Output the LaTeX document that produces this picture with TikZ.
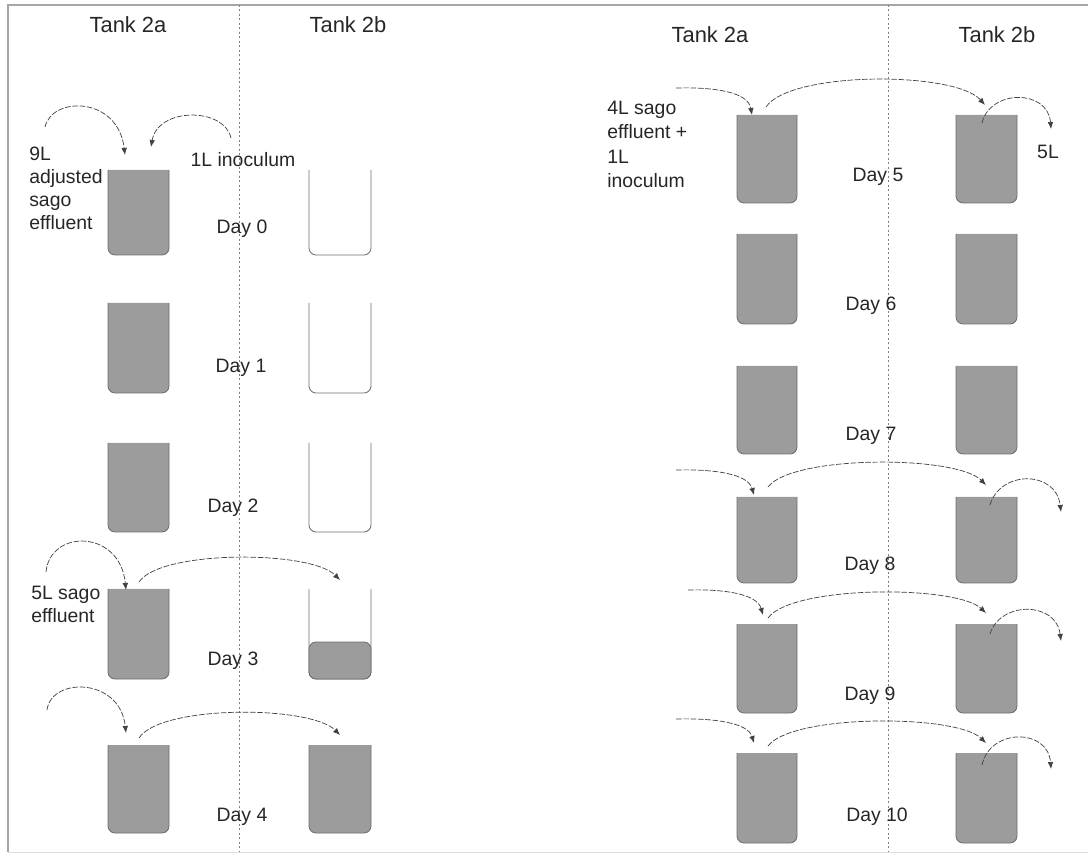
\documentclass[tikz,border=0pt]{standalone}
\usepackage{fontspec}
\setmainfont{Liberation Sans}
\usetikzlibrary{arrows.meta}
\definecolor{tankgray}{HTML}{9C9C9C}
\definecolor{tankline}{HTML}{6E6E6E}
\definecolor{flowgray}{HTML}{404040}
\definecolor{textgray}{HTML}{262626}
\tikzset{
  tankfull/.style={draw=tankline,fill=tankgray,rounded corners=5,line width=0.6pt},
  tankempty/.style={draw=tankline,rounded corners=5,line width=0.6pt},
  flow/.style={draw=flowgray,line width=0.5pt,dash pattern=on 4pt off 1.2pt,-{Latex[length=5pt,width=4pt]}},
  divider/.style={draw=gray,line width=0.6pt,dash pattern=on 1.4pt off 1.8pt},
  note/.style={font=\fontsize{13.8}{16.4}\selectfont,text=textgray,inner sep=0pt},
  heading/.style={font=\fontsize{15.6}{18}\selectfont}
}
\begin{document}
\begin{tikzpicture}[x=0.25mm,y=-0.25mm,every node/.style={note}]
\useasboundingbox (0,0) rectangle (1088,854);
% frame
\draw[gray!70,line width=0.8pt] (8,852) -- (8,5) -- (1088,5);
\draw[gray!25,line width=0.6pt] (8,852) -- (1088,852);
\draw[divider] (239,5) -- (239,852);
\draw[divider] (888,5) -- (888,852);
% headings
\node[heading] (tal) at (128,25) {Tank 2a};
\node[heading] (tbl) at (348,25) {Tank 2b};
\node[heading] (tar) at (710,35) {Tank 2a};
\node[heading] (tbr) at (997,35) {Tank 2b};
% left half, day 0 to day 4
\filldraw[tankfull] (108,170) |- (169,255) -- (169,170);
\draw[tankempty] (309,170) |- (371,255) -- (371,170);
\filldraw[tankfull] (108,303) |- (169,393) -- (169,303);
\draw[tankempty] (309,303) |- (371,393) -- (371,303);
\filldraw[tankfull] (108,443) |- (169,532) -- (169,443);
\draw[tankempty] (309,443) |- (371,532) -- (371,443);
\filldraw[tankfull] (108,589) |- (169,679) -- (169,589);
\draw[tankempty] (309,589) |- (371,679) -- (371,589);
\filldraw[tankfull] (309,642) |- (371,679) -- (371,642) -- cycle;
\filldraw[tankfull] (108,745) |- (169,833) -- (169,745);
\filldraw[tankfull] (309,745) |- (371,833) -- (371,745);
% right half, day 5 to day 10
\filldraw[tankfull] (737,115) |- (797,203) -- (797,115);
\filldraw[tankfull] (956,115) |- (1017,203) -- (1017,115);
\filldraw[tankfull] (737,234) |- (797,324) -- (797,234);
\filldraw[tankfull] (956,234) |- (1017,324) -- (1017,234);
\filldraw[tankfull] (737,366) |- (797,454) -- (797,366);
\filldraw[tankfull] (956,366) |- (1017,454) -- (1017,366);
\filldraw[tankfull] (737,497) |- (797,583) -- (797,497);
\filldraw[tankfull] (956,497) |- (1017,583) -- (1017,497);
\filldraw[tankfull] (737,624) |- (797,713) -- (797,624);
\filldraw[tankfull] (956,624) |- (1017,713) -- (1017,624);
\filldraw[tankfull] (737,753) |- (797,843) -- (797,753);
\filldraw[tankfull] (956,753) |- (1017,843) -- (1017,753);
% day labels
\node (d0) at (242,229) {Day 0};
\node (d1) at (241,368) {Day 1};
\node (d2) at (233,508) {Day 2};
\node (d3) at (233,661) {Day 3};
\node (d4) at (242,817) {Day 4};
\node (d5) at (878,177) {Day 5};
\node (d6) at (871,306) {Day 6};
\node (d7) at (871,436) {Day 7};
\node (d8) at (870,566) {Day 8};
\node (d9) at (870,696) {Day 9};
\node (d10) at (877,817) {Day 10};
% feed texts
\node[anchor=north west,align=left] (feed0) at (29,147) {9L\\adjusted\\sago\\effluent};
\node (inoc0) at (243,160) {1L inoculum};
\node[anchor=north west,align=left] (feed3) at (31,586) {5L sago\\effluent};
\node[anchor=north west,align=left,font=\fontsize{13.8}{17.3}\selectfont] (feed5) at (607,101) {4L sago\\effluent +\\1L\\inoculum};
\node (out5) at (1048,152) {5L};
% flow ends
\coordinate (f0s) at (45,127);   \coordinate (f0e) at (125,155);
\coordinate (i0s) at (231,138);  \coordinate (i0e) at (151,147);
\coordinate (f3s) at (46,572);   \coordinate (f3e) at (126,590);
\coordinate (t3s) at (139,582);  \coordinate (t3e) at (340,580);
\coordinate (f4s) at (47,710);   \coordinate (f4e) at (126,733);
\coordinate (t4s) at (139,738);  \coordinate (t4e) at (340,735);
\coordinate (f5s) at (676,88);   \coordinate (f5e) at (752,115);
\coordinate (t5s) at (766,107);  \coordinate (t5e) at (985,105);
\coordinate (o5s) at (982,123);  \coordinate (o5e) at (1051,129);
\coordinate (f8s) at (676,470);  \coordinate (f8e) at (754,495);
\coordinate (t8s) at (768,487);  \coordinate (t8e) at (986,485);
\coordinate (o8s) at (990,505);  \coordinate (o8e) at (1061,512);
\coordinate (f9s) at (688,590);  \coordinate (f9e) at (763,615);
\coordinate (t9s) at (768,618);  \coordinate (t9e) at (986,613);
\coordinate (o9s) at (990,634);  \coordinate (o9e) at (1061,641);
\coordinate (f10s) at (676,719); \coordinate (f10e) at (754,743);
\coordinate (t10s) at (768,746); \coordinate (t10e) at (986,743);
\coordinate (o10s) at (982,765); \coordinate (o10e) at (1051,769);
% flows
\draw[flow] (f0s) .. controls (52,96) and (118,96) .. (f0e);
\draw[flow] (i0s) .. controls (224,107) and (158,107) .. (i0e);
\draw[flow] (f3s) .. controls (50,529) and (120,529) .. (f3e);
\draw[flow] (t3s) .. controls (160,550) and (310,550) .. (t3e);
\draw[flow] (f4s) .. controls (51,677) and (120,677) .. (f4e);
\draw[flow] (t4s) .. controls (160,705) and (310,705) .. (t4e);
\draw[flow] (f5s) .. controls (715,87) and (748,92) .. (f5e);
\draw[flow] (t5s) .. controls (790,71) and (955,71) .. (t5e);
\draw[flow] (o5s) .. controls (990,89) and (1048,89) .. (o5e);
\draw[flow] (f8s) .. controls (715,469) and (748,474) .. (f8e);
\draw[flow] (t8s) .. controls (792,455) and (956,455) .. (t8e);
\draw[flow] (o8s) .. controls (1000,470) and (1056,470) .. (o8e);
\draw[flow] (f9s) .. controls (725,589) and (757,594) .. (f9e);
\draw[flow] (t9s) .. controls (792,585) and (956,585) .. (t9e);
\draw[flow] (o9s) .. controls (1000,601) and (1056,601) .. (o9e);
\draw[flow] (f10s) .. controls (715,718) and (748,723) .. (f10e);
\draw[flow] (t10s) .. controls (792,714) and (956,714) .. (t10e);
\draw[flow] (o10s) .. controls (990,728) and (1048,728) .. (o10e);
\end{tikzpicture}
\end{document}
